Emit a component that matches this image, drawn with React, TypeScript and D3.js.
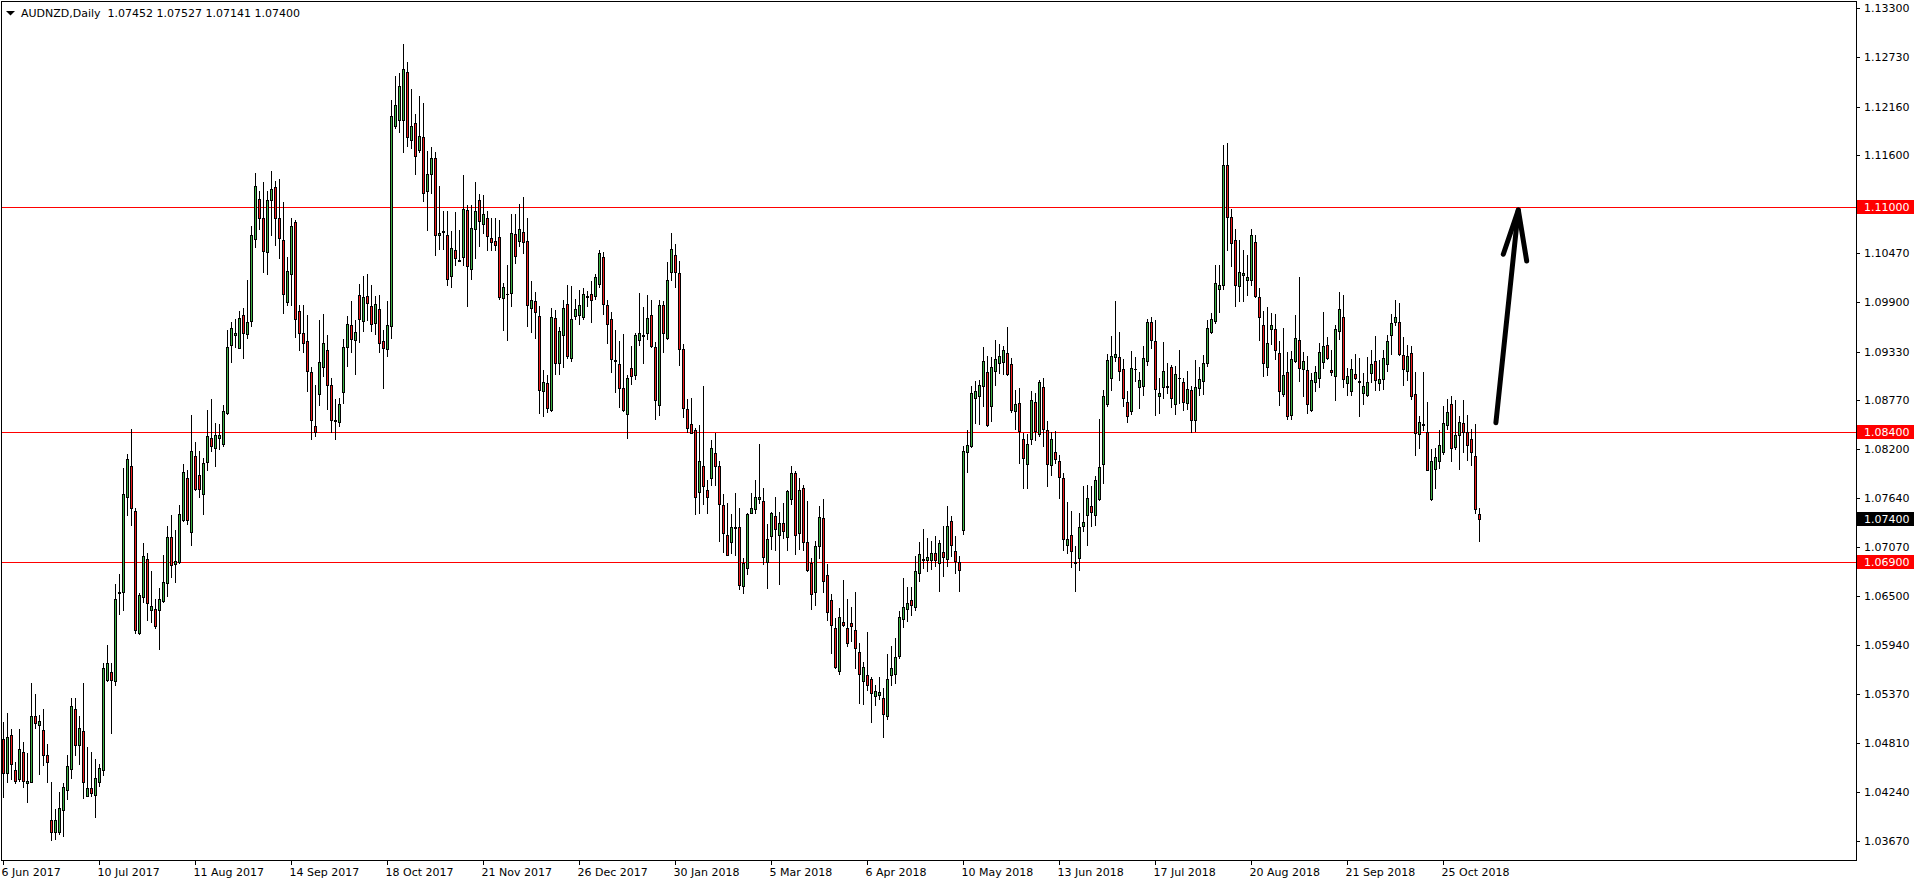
import React from 'react';
import * as d3 from 'd3';

// ---------- DATA ----------
const header = 'AUDNZD,Daily  1.07452 1.07527 1.07141 1.07400';

const opens = [
  1.04858, 1.04454, 1.04904, 1.04489, 1.04385, 1.047, 1.04339, 1.04358, 1.05123, 1.05019,
  1.04962, 1.04662, 1.03916, 1.03773, 1.03773, 1.04027, 1.04258, 1.04504, 1.05204, 1.04788,
  1.0495, 1.04196, 1.04281, 1.04204, 1.0435, 1.04489, 1.05535, 1.05631, 1.05523, 1.06535,
  1.06554, 1.0765, 1.08008, 1.07488, 1.06077, 1.06496, 1.06935, 1.06346, 1.06358, 1.06346,
  1.0645, 1.06658, 1.07188, 1.06877, 1.069, 1.07385, 1.07869, 1.07246, 1.08123, 1.07904,
  1.07685, 1.08054, 1.08331, 1.08215, 1.08331, 1.08262, 1.08621, 1.0941, 1.09525, 1.09372,
  1.09748, 1.09535, 1.09682, 1.1063, 1.11092, 1.10875, 1.10483, 1.11076, 1.11229, 1.10875,
  1.10619, 1.099, 1.10227, 1.10826, 1.09802, 1.09544, 1.09455, 1.09093, 1.08469, 1.08839,
  1.09151, 1.09347, 1.08943, 1.08538, 1.08515, 1.08858, 1.09382, 1.0964, 1.09463, 1.09983,
  1.09679, 1.09971, 1.0986, 1.09655, 1.09825, 1.09455, 1.09359, 1.09625, 1.11936, 1.12009,
  1.12005, 1.12564, 1.1177, 1.1197, 1.11655, 1.11812, 1.11181, 1.11381, 1.1157, 1.10672,
  1.1071, 1.1068, 1.10199, 1.10507, 1.10391, 1.10418, 1.10969, 1.10283, 1.10746, 1.11084,
  1.10799, 1.10876, 1.10642, 1.10611, 1.10653, 1.09948, 1.09991, 1.10006, 1.10692, 1.10611,
  1.1071, 1.10611, 1.09829, 1.09918, 1.09744, 1.0887, 1.08966, 1.08658, 1.09717, 1.09197,
  1.09525, 1.0988, 1.09255, 1.09736, 1.09752, 1.09729, 1.09963, 1.09994, 1.09975, 1.10112,
  1.10428, 1.09863, 1.09704, 1.09229, 1.09186, 1.0891, 1.08607, 1.09136, 1.09054, 1.09459,
  1.09513, 1.09548, 1.09754, 1.09381, 1.08712, 1.09863, 1.09482, 1.10253, 1.10443, 1.10233,
  1.09354, 1.08665, 1.08498, 1.08424, 1.07708, 1.08011, 1.07731, 1.07863, 1.08163, 1.08007,
  1.07552, 1.07206, 1.07128, 1.07295, 1.07307, 1.06615, 1.06825, 1.07467, 1.07509, 1.0763,
  1.07599, 1.06903, 1.07198, 1.07435, 1.0721, 1.07354, 1.0719, 1.0763, 1.07922, 1.07233,
  1.0775, 1.07128, 1.06883, 1.06548, 1.07085, 1.07408, 1.06747, 1.06459, 1.06136, 1.05638,
  1.06206, 1.06136, 1.06194, 1.06109, 1.05856, 1.0552, 1.0559, 1.05544, 1.0535, 1.05358,
  1.05327, 1.05117, 1.0559, 1.05603, 1.05817, 1.0624, 1.0636, 1.0646, 1.06374, 1.06771,
  1.06921, 1.06917, 1.06917, 1.07002, 1.06886, 1.07013, 1.06933, 1.07376, 1.07029, 1.06894,
  1.07272, 1.08165, 1.08235, 1.0879, 1.0882, 1.08936, 1.09094, 1.08705, 1.09101, 1.09198,
  1.09205, 1.09313, 1.0919, 1.0864, 1.08736, 1.08319, 1.0803, 1.08319, 1.08743, 1.08381,
  1.08924, 1.08427, 1.08023, 1.08165, 1.08069, 1.07869, 1.07098, 1.07214, 1.0689, 1.06944,
  1.07318, 1.07437, 1.07549, 1.07437, 1.07626, 1.0803, 1.08724, 1.09024, 1.09263, 1.09263,
  1.09128, 1.08747, 1.0864, 1.09124, 1.0892, 1.08936, 1.09225, 1.09671, 1.09456, 1.08812,
  1.0892, 1.08924, 1.09151, 1.08724, 1.0902, 1.08978, 1.08736, 1.08889, 1.08535, 1.08909,
  1.08986, 1.09198, 1.09552, 1.09687, 1.10053, 1.1010, 1.1149, 1.1088, 1.1062, 1.10084,
  1.10211, 1.10153, 1.10153, 1.1060, 1.09961, 1.09637, 1.09152, 1.09591, 1.09591, 1.09313,
  1.0884, 1.0909, 1.08597, 1.09217, 1.09464, 1.09129, 1.09121, 1.08651, 1.08978, 1.09025,
  1.09213, 1.09406, 1.09117, 1.09044, 1.0957, 1.09729, 1.08967, 1.08878, 1.0907, 1.08986,
  1.08851, 1.08828, 1.09082, 1.09225, 1.08967, 1.09013, 1.09186, 1.09521, 1.09676, 1.09676,
  1.0929, 1.09109, 1.09313, 1.0884, 1.08377, 1.08485, 1.084, 1.07626, 1.07973, 1.08069,
  1.08165, 1.08481, 1.08728, 1.08227, 1.08362, 1.08504, 1.084, 1.08323, 1.08119, 1.07452,
];

const highs = [
  1.0505, 1.0515, 1.04965, 1.04581, 1.04965, 1.04819, 1.04696, 1.05496, 1.05369, 1.05127,
  1.05196, 1.04792, 1.0435, 1.04042, 1.04242, 1.04342, 1.04665, 1.05331, 1.05331, 1.05119,
  1.05504, 1.04765, 1.04704, 1.04619, 1.04562, 1.05735, 1.05942, 1.05735, 1.06646, 1.06754,
  1.07985, 1.0815, 1.08438, 1.07523, 1.06542, 1.07119, 1.07004, 1.06796, 1.06465, 1.066,
  1.06973, 1.07315, 1.07446, 1.07273, 1.07558, 1.08035, 1.07965, 1.086, 1.08288, 1.08185,
  1.081, 1.08658, 1.08779, 1.08504, 1.08496, 1.08715, 1.09574, 1.09666, 1.0971, 1.09802,
  1.09829, 1.10156, 1.10782, 1.11397, 1.1119, 1.11288, 1.1119, 1.11419, 1.11299, 1.11327,
  1.11054, 1.10428, 1.10875, 1.10853, 1.09863, 1.09871, 1.09756, 1.09151, 1.08947, 1.09698,
  1.09767, 1.09524, 1.09024, 1.08785, 1.08793, 1.09478, 1.09736, 1.09917, 1.09698, 1.10114,
  1.10206, 1.10222, 1.10102, 1.09967, 1.09987, 1.09582, 1.0991, 1.12232, 1.12517, 1.12548,
  1.12887, 1.12679, 1.12363, 1.12078, 1.12286, 1.12202, 1.11643, 1.11689, 1.11631, 1.11246,
  1.1095, 1.1095, 1.10719, 1.10938, 1.10738, 1.11373, 1.11027, 1.11027, 1.11289, 1.11154,
  1.11142, 1.1095, 1.10873, 1.10873, 1.10853, 1.10121, 1.10333, 1.10919, 1.10919, 1.11034,
  1.11115, 1.10873, 1.10148, 1.10017, 1.09852, 1.09112, 1.09062, 1.09833, 1.09813, 1.09609,
  1.09929, 1.10102, 1.1009, 1.09937, 1.10044, 1.10064, 1.10033, 1.10141, 1.10226, 1.10502,
  1.10482, 1.0993, 1.09786, 1.09579, 1.09451, 1.09533, 1.09054, 1.09393, 1.0954, 1.10004,
  1.0984, 1.09988, 1.09922, 1.09435, 1.09926, 1.0991, 1.10369, 1.107, 1.10572, 1.1038,
  1.09412, 1.08782, 1.08794, 1.08451, 1.08478, 1.0893, 1.07848, 1.08307, 1.08393, 1.0807,
  1.07685, 1.07576, 1.07447, 1.077, 1.07525, 1.06946, 1.07459, 1.077, 1.07848, 1.08256,
  1.0775, 1.07342, 1.07474, 1.07646, 1.07471, 1.07583, 1.07731, 1.08011, 1.07945, 1.07867,
  1.07786, 1.07607, 1.06941, 1.0714, 1.07548, 1.07626, 1.06875, 1.06533, 1.06253, 1.0637,
  1.06688, 1.06474, 1.06381, 1.06556, 1.05961, 1.05739, 1.06089, 1.05564, 1.05475, 1.05564,
  1.05447, 1.05832, 1.0593, 1.06019, 1.0633, 1.0671, 1.0661, 1.0661, 1.06963, 1.07129,
  1.07279, 1.07175, 1.07144, 1.07202, 1.07156, 1.0731, 1.07549, 1.07433, 1.07202, 1.06971,
  1.08235, 1.08427, 1.08936, 1.08993, 1.08997, 1.09382, 1.09282, 1.09267, 1.09459, 1.09421,
  1.09398, 1.0961, 1.09255, 1.0889, 1.08909, 1.08389, 1.08381, 1.0887, 1.08851, 1.09005,
  1.0902, 1.08531, 1.08397, 1.08416, 1.08138, 1.07926, 1.07588, 1.07484, 1.07087, 1.07464,
  1.07772, 1.07792, 1.07772, 1.07888, 1.08554, 1.08889, 1.09306, 1.09513, 1.09918, 1.09552,
  1.09244, 1.0887, 1.0934, 1.09263, 1.0909, 1.09398, 1.0971, 1.09729, 1.09698, 1.09024,
  1.09444, 1.09198, 1.09178, 1.09159, 1.09352, 1.09024, 1.09101, 1.08928, 1.09228, 1.09148,
  1.09286, 1.09699, 1.09776, 1.10334, 1.10334, 1.1172, 1.1174, 1.1098, 1.1075, 1.1062,
  1.1050, 1.1045, 1.1075, 1.1068, 1.10065, 1.09803, 1.09849, 1.09776, 1.09764, 1.09456,
  1.09602, 1.09329, 1.09333, 1.09756, 1.10192, 1.09329, 1.09275, 1.09082, 1.09167, 1.09429,
  1.09787, 1.09498, 1.09352, 1.09641, 1.10018, 1.09988, 1.0914, 1.09248, 1.09306, 1.09256,
  1.09082, 1.09267, 1.09344, 1.09514, 1.09236, 1.09352, 1.09518, 1.09768, 1.0993, 1.09891,
  1.09498, 1.0941, 1.09398, 1.09094, 1.08589, 1.09094, 1.08743, 1.08204, 1.08216, 1.08427,
  1.08697, 1.08782, 1.0882, 1.08774, 1.08589, 1.08774, 1.086, 1.08439, 1.08497, 1.07527,
];

const lows = [
  1.04177, 1.0435, 1.04389, 1.04342, 1.04369, 1.04292, 1.04127, 1.0435, 1.04985, 1.04446,
  1.0455, 1.04358, 1.03688, 1.03696, 1.0376, 1.03735, 1.04158, 1.04396, 1.04665, 1.04562,
  1.04165, 1.04188, 1.04196, 1.03946, 1.04312, 1.04439, 1.05523, 1.04927, 1.05477, 1.063,
  1.06342, 1.07438, 1.07323, 1.06081, 1.06069, 1.06435, 1.06227, 1.06204, 1.06138, 1.05896,
  1.06438, 1.06504, 1.06723, 1.06665, 1.06888, 1.0737, 1.07338, 1.07092, 1.07727, 1.07646,
  1.0745, 1.07965, 1.08177, 1.08004, 1.082, 1.08235, 1.08604, 1.09209, 1.09378, 1.09366,
  1.09258, 1.09486, 1.09628, 1.10537, 1.10744, 1.10249, 1.10227, 1.10673, 1.10564, 1.10412,
  1.09775, 1.09867, 1.09867, 1.09503, 1.09351, 1.0932, 1.0887, 1.08319, 1.08349, 1.08716,
  1.09043, 1.08665, 1.08396, 1.08319, 1.08465, 1.08735, 1.09166, 1.0932, 1.09074, 1.09436,
  1.09571, 1.09698, 1.09563, 1.09536, 1.09324, 1.08908, 1.09282, 1.09486, 1.11913, 1.11863,
  1.11631, 1.11709, 1.11682, 1.11385, 1.11631, 1.11065, 1.10738, 1.11162, 1.10449, 1.10514,
  1.10518, 1.10102, 1.10071, 1.10329, 1.10372, 1.10329, 1.09859, 1.10168, 1.10406, 1.10545,
  1.10699, 1.10507, 1.10499, 1.10499, 1.09937, 1.09582, 1.09459, 1.09852, 1.10353, 1.10545,
  1.10468, 1.09628, 1.09552, 1.09486, 1.08619, 1.08581, 1.08627, 1.08638, 1.09074, 1.0907,
  1.09151, 1.09255, 1.09224, 1.09705, 1.09651, 1.09705, 1.09852, 1.09667, 1.09937, 1.10074,
  1.09762, 1.09432, 1.09093, 1.08867, 1.08684, 1.08646, 1.08334, 1.08957, 1.09007, 1.09404,
  1.09202, 1.0947, 1.09381, 1.08548, 1.08595, 1.09327, 1.09474, 1.10151, 1.10077, 1.09179,
  1.08579, 1.084, 1.08384, 1.07451, 1.07467, 1.07564, 1.07467, 1.07789, 1.07789, 1.0714,
  1.07019, 1.0698, 1.07004, 1.06984, 1.06583, 1.06537, 1.06759, 1.07459, 1.07463, 1.07576,
  1.06875, 1.06595, 1.0705, 1.07039, 1.06642, 1.07175, 1.07039, 1.07568, 1.06992, 1.0705,
  1.07039, 1.0679, 1.0635, 1.06397, 1.06941, 1.06552, 1.06233, 1.05844, 1.05677, 1.05599,
  1.06156, 1.05922, 1.05988, 1.05677, 1.05268, 1.05253, 1.05416, 1.05046, 1.05241, 1.05319,
  1.0488, 1.05086, 1.05475, 1.05502, 1.05786, 1.0615, 1.0622, 1.0628, 1.06347, 1.06674,
  1.06829, 1.0679, 1.06817, 1.06848, 1.06567, 1.06732, 1.06856, 1.06971, 1.06771, 1.06567,
  1.07222, 1.07934, 1.08227, 1.08504, 1.08497, 1.08705, 1.08473, 1.08531, 1.08947, 1.09082,
  1.0907, 1.09055, 1.08628, 1.08439, 1.08042, 1.07749, 1.07749, 1.08262, 1.08312, 1.0835,
  1.0824, 1.07772, 1.07907, 1.08042, 1.07637, 1.07041, 1.07002, 1.06836, 1.06559, 1.06809,
  1.0726, 1.07098, 1.0731, 1.07329, 1.07618, 1.07811, 1.08697, 1.08889, 1.09217, 1.09005,
  1.08705, 1.08516, 1.08612, 1.08986, 1.08678, 1.08824, 1.09178, 1.09371, 1.08593, 1.0862,
  1.08793, 1.08851, 1.08689, 1.08608, 1.08736, 1.08651, 1.08666, 1.084, 1.08416, 1.08824,
  1.0884, 1.09167, 1.09545, 1.0966, 1.09783, 1.1005, 1.1050, 1.1032, 1.09853, 1.09911,
  1.09918, 1.0998, 1.1010, 1.09957, 1.0946, 1.09044, 1.09063, 1.09417, 1.09248, 1.08709,
  1.08821, 1.08551, 1.08551, 1.09206, 1.08986, 1.08813, 1.0862, 1.08647, 1.08871, 1.08917,
  1.0914, 1.09244, 1.09063, 1.08766, 1.09475, 1.0892, 1.08824, 1.08824, 1.09013, 1.08582,
  1.08724, 1.0882, 1.08974, 1.08882, 1.0889, 1.08897, 1.09109, 1.09302, 1.09641, 1.09294,
  1.0894, 1.09005, 1.08782, 1.08139, 1.08216, 1.08427, 1.07957, 1.0761, 1.07753, 1.07985,
  1.0815, 1.08435, 1.08062, 1.08208, 1.07973, 1.08169, 1.0808, 1.08023, 1.07464, 1.07141,
];

const closes = [
  1.04465, 1.04881, 1.04558, 1.04369, 1.04731, 1.04362, 1.04362, 1.05115, 1.05042, 1.05065,
  1.04662, 1.04589, 1.03773, 1.03916, 1.0405, 1.04292, 1.04535, 1.05238, 1.04788, 1.04985,
  1.0435, 1.04281, 1.04223, 1.04396, 1.04512, 1.05677, 1.05735, 1.05535, 1.06465, 1.0655,
  1.07685, 1.08088, 1.07523, 1.06115, 1.06519, 1.06969, 1.06427, 1.06392, 1.06158, 1.06473,
  1.06669, 1.07188, 1.06865, 1.06912, 1.07454, 1.07938, 1.07385, 1.08181, 1.07742, 1.07742,
  1.08042, 1.08354, 1.08238, 1.08365, 1.08365, 1.08642, 1.09383, 1.09606, 1.09546, 1.09721,
  1.09546, 1.09677, 1.10679, 1.11239, 1.10875, 1.10494, 1.11082, 1.11212, 1.10875, 1.10646,
  1.09993, 1.10265, 1.10782, 1.09704, 1.09544, 1.09428, 1.09101, 1.08534, 1.084, 1.09209,
  1.09428, 1.08939, 1.08534, 1.08523, 1.08723, 1.09382, 1.09648, 1.09474, 1.09555, 1.09705,
  1.09956, 1.0989, 1.09648, 1.09879, 1.09428, 1.0937, 1.09636, 1.12051, 1.12178, 1.12402,
  1.12598, 1.11805, 1.11936, 1.11585, 1.1182, 1.11158, 1.11381, 1.1157, 1.10672, 1.10703,
  1.10722, 1.10168, 1.10526, 1.10406, 1.1038, 1.1098, 1.10314, 1.10757, 1.10957, 1.10842,
  1.10923, 1.10661, 1.10591, 1.10561, 1.09956, 1.10075, 1.09998, 1.10703, 1.1043, 1.10746,
  1.10595, 1.09867, 1.09925, 1.09786, 1.08881, 1.08977, 1.08677, 1.09729, 1.09197, 1.09567,
  1.09833, 1.09274, 1.09705, 1.09825, 1.09863, 1.09994, 1.09975, 1.09925, 1.10191, 1.10463,
  1.09879, 1.09649, 1.09241, 1.09221, 1.08914, 1.08653, 1.09027, 1.09051, 1.09521, 1.0954,
  1.09521, 1.09716, 1.09389, 1.08766, 1.09871, 1.0954, 1.10159, 1.10517, 1.10253, 1.09365,
  1.08677, 1.08447, 1.08388, 1.07653, 1.0807, 1.07774, 1.07653, 1.0821, 1.08007, 1.07568,
  1.07233, 1.06984, 1.07307, 1.07303, 1.06634, 1.06891, 1.07447, 1.07517, 1.07646, 1.07653,
  1.06961, 1.07167, 1.07459, 1.07284, 1.07354, 1.0726, 1.07716, 1.07922, 1.0721, 1.07735,
  1.07128, 1.06809, 1.06533, 1.07081, 1.0742, 1.06681, 1.06323, 1.06167, 1.05688, 1.06261,
  1.06175, 1.05961, 1.06163, 1.05902, 1.05603, 1.05681, 1.05475, 1.05385, 1.05408, 1.05397,
  1.05136, 1.05544, 1.05669, 1.05805, 1.06264, 1.0638, 1.0642, 1.0640, 1.0679, 1.0699,
  1.06933, 1.06956, 1.07002, 1.06917, 1.07118, 1.06952, 1.07318, 1.07098, 1.06906, 1.06801,
  1.08185, 1.08254, 1.08851, 1.08878, 1.08947, 1.09225, 1.08485, 1.09151, 1.09244, 1.09282,
  1.09352, 1.0907, 1.08651, 1.08728, 1.08408, 1.081, 1.08262, 1.08774, 1.08408, 1.08982,
  1.08435, 1.0803, 1.08319, 1.08088, 1.0788, 1.07164, 1.07164, 1.07021, 1.06898, 1.07302,
  1.0736, 1.07638, 1.07476, 1.07849, 1.07996, 1.0882, 1.09236, 1.09275, 1.09302, 1.09101,
  1.0879, 1.0859, 1.09136, 1.09132, 1.09005, 1.09255, 1.09671, 1.09467, 1.08897, 1.08851,
  1.09109, 1.08932, 1.0879, 1.0907, 1.09028, 1.08747, 1.08897, 1.08535, 1.0892, 1.09017,
  1.09198, 1.09602, 1.09706, 1.10122, 1.10103, 1.1149, 1.1088, 1.1058, 1.10095, 1.1025,
  1.10238, 1.10192, 1.1068, 1.09976, 1.09729, 1.09198, 1.09429, 1.09637, 1.09344, 1.0887,
  1.09059, 1.08589, 1.09244, 1.09487, 1.09136, 1.09225, 1.08724, 1.09, 1.09094, 1.09325,
  1.09394, 1.09256, 1.09094, 1.09595, 1.09822, 1.09013, 1.09048, 1.09129, 1.09025, 1.08978,
  1.08936, 1.08978, 1.09186, 1.09001, 1.09017, 1.09256, 1.09456, 1.0966, 1.09729, 1.09302,
  1.09129, 1.09283, 1.08813, 1.08389, 1.0852, 1.08493, 1.07965, 1.08061, 1.08108, 1.0825,
  1.08504, 1.08632, 1.08216, 1.08362, 1.08516, 1.084, 1.08246, 1.08169, 1.07511, 1.074,
];

// bar index of each date label on the time axis
const dateTickIndex = [0, 24, 48, 72, 96, 120, 144, 168, 192, 216, 240, 264, 288, 312, 336, 360];
const dateTickLabel = [
  '6 Jun 2017', '10 Jul 2017', '11 Aug 2017', '14 Sep 2017', '18 Oct 2017', '21 Nov 2017',
  '26 Dec 2017', '30 Jan 2018', '5 Mar 2018', '6 Apr 2018', '10 May 2018', '13 Jun 2018',
  '17 Jul 2018', '20 Aug 2018', '21 Sep 2018', '25 Oct 2018',
];

const priceTicks = [
  1.133, 1.1273, 1.1216, 1.116, 1.1103, 1.1047, 1.099, 1.0933, 1.0877,
  1.082, 1.0764, 1.0707, 1.065, 1.0594, 1.0537, 1.0481, 1.0424, 1.0367,
];

const levelPrices = [1.11, 1.084, 1.069];
const lastPrice = 1.074;

// hand-drawn arrow annotation, in (bar index, price)
const arrowShaft: [number, number][] = [[373.1, 1.08507], [378.7, 1.10966]];
const arrowHead: [number, number][] = [[374.95, 1.10454], [378.7, 1.10966], [380.8, 1.10376]];

// ---------- CHART ----------
const W = 1916;
const H = 884;
const PLOT_RIGHT = 1856;
const PLOT_BOTTOM = 860;
const FONT = '"DejaVu Sans", Verdana, sans-serif';
const GREEN = '#3cb043';
const RED = '#ee1c1c';

export default function App() {
  const x = d3.scaleLinear().domain([0, 369]).range([3.5, 1479.5]);
  const y = d3.scaleLinear().domain([1.0367, 1.133]).range([841.3, 8]);

  const line = d3
    .line<[number, number]>()
    .x((d) => x(d[0]))
    .y((d) => y(d[1]));

  const candles = opens.map((o, i) => {
    const c = closes[i];
    const h = highs[i];
    const l = lows[i];
    const cx = x(i);
    const top = Math.round(y(Math.max(o, c)));
    const bot = Math.round(y(Math.min(o, c)));
    const wt = Math.round(y(h));
    const wb = Math.round(y(l));
    const up = c >= o;
    return (
      <g key={i}>
        <line x1={cx} x2={cx} y1={wt} y2={wb + 1} stroke="#000" strokeWidth={1} />
        {bot - top >= 1 ? (
          <rect
            x={cx - 1}
            y={top + 0.5}
            width={2}
            height={bot - top}
            fill={up ? GREEN : RED}
            stroke="#000"
            strokeWidth={1}
          />
        ) : (
          <line x1={cx - 1.5} x2={cx + 1.5} y1={top + 0.5} y2={top + 0.5} stroke="#000" strokeWidth={1} />
        )}
      </g>
    );
  });

  const labelBox = (p: number, bg: string, key: string) => {
    const yy = Math.round(y(p));
    return (
      <g key={key}>
        <rect x={1857} y={yy - 7} width={57} height={14} fill={bg} />
        <text x={1864} y={yy + 4} fontFamily={FONT} fontSize={11} fill="#fff">
          {p.toFixed(5)}
        </text>
      </g>
    );
  };

  return (
    <svg
      width={W}
      height={H}
      viewBox={`0 0 ${W} ${H}`}
      style={{ position: 'absolute', left: 0, top: 0, background: '#fff' }}
    >
      <rect x={0} y={0} width={W} height={H} fill="#fff" />

      {/* horizontal levels */}
      {levelPrices.map((p) => {
        const yy = Math.round(y(p)) + 0.5;
        return <line key={p} x1={2} x2={PLOT_RIGHT} y1={yy} y2={yy} stroke="#ff0000" strokeWidth={1} />;
      })}

      {/* candles */}
      {candles}

      {/* arrow */}
      <path
        d={line(arrowShaft) || ''}
        fill="none"
        stroke="#000"
        strokeWidth={5}
        strokeLinecap="round"
      />
      <path
        d={line(arrowHead) || ''}
        fill="none"
        stroke="#000"
        strokeWidth={5}
        strokeLinecap="round"
        strokeLinejoin="round"
      />

      {/* frame */}
      <line x1={1.5} x2={1.5} y1={1} y2={PLOT_BOTTOM + 1} stroke="#000" />
      <line x1={1} x2={PLOT_RIGHT + 1} y1={1.5} y2={1.5} stroke="#000" />
      <line x1={PLOT_RIGHT + 0.5} x2={PLOT_RIGHT + 0.5} y1={1} y2={PLOT_BOTTOM + 1} stroke="#000" />
      <line x1={1} x2={PLOT_RIGHT + 1} y1={PLOT_BOTTOM + 0.5} y2={PLOT_BOTTOM + 0.5} stroke="#000" />

      {/* price axis */}
      {priceTicks.map((p) => {
        const yy = Math.round(y(p));
        return (
          <g key={p}>
            <line x1={PLOT_RIGHT} x2={PLOT_RIGHT + 4} y1={yy + 0.5} y2={yy + 0.5} stroke="#000" />
            <text x={1864} y={yy + 4} fontFamily={FONT} fontSize={11} fill="#000">
              {p.toFixed(5)}
            </text>
          </g>
        );
      })}
      {levelPrices.map((p) => labelBox(p, '#ff0000', 'lv' + p))}
      {labelBox(lastPrice, '#000', 'last')}

      {/* time axis */}
      {dateTickIndex.map((idx, k) => {
        const xx = Math.round(x(idx) - 0.5) + 0.5;
        return (
          <g key={idx}>
            <line x1={xx} x2={xx} y1={PLOT_BOTTOM} y2={PLOT_BOTTOM + 5} stroke="#000" />
            <text x={xx - 2} y={876} fontFamily={FONT} fontSize={11} fill="#000">
              {dateTickLabel[k]}
            </text>
          </g>
        );
      })}

      {/* header */}
      <path d="M6,11 L15,11 L10.5,15.5 Z" fill="#000" />
      <text x={21} y={17} fontFamily={FONT} fontSize={11} fill="#000" style={{ whiteSpace: 'pre' }}>
        {header}
      </text>
    </svg>
  );
}
